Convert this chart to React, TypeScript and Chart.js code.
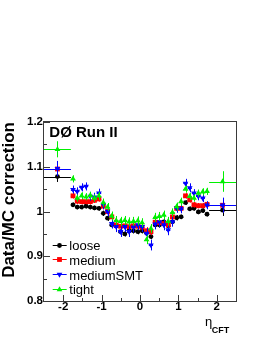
import React, { useEffect, useRef } from "react";
import { Chart, registerables } from "chart.js";

Chart.register(...registerables);

// ---- data ----
const BIN_EDGES = [-2.5, -1.8, -1.69, -1.58, -1.46, -1.35, -1.24, -1.13, -1.01, -0.9, -0.79, -0.68, -0.56, -0.45, -0.34, -0.23, -0.11, 0, 0.11, 0.23, 0.34, 0.45, 0.56, 0.68, 0.79, 0.9, 1.01, 1.13, 1.24, 1.35, 1.46, 1.58, 1.69, 1.8, 2.5];

const LOOSE = [1.078, 1.015, 1.010, 1.010, 1.012, 1.010, 1.008, 1.007, 0.996, 0.985, 0.970, 0.968, 0.955, 0.950, 0.958, 0.957, 0.955, 0.957, 0.952, 0.944, 0.970, 0.970, 0.977, 0.968, 0.977, 0.986, 0.988, 1.020, 1.006, 1.007, 0.999, 1.002, 0.994, 1.003];
const LOOSE_ERR = [0.012, 0.005, 0.005, 0.005, 0.005, 0.005, 0.005, 0.005, 0.006, 0.006, 0.006, 0.006, 0.006, 0.006, 0.006, 0.006, 0.006, 0.006, 0.006, 0.006, 0.006, 0.006, 0.006, 0.006, 0.006, 0.006, 0.005, 0.005, 0.005, 0.005, 0.005, 0.005, 0.005, 0.013];

const MEDIUM = [1.095, 1.035, 1.023, 1.022, 1.022, 1.022, 1.025, 1.028, 1.012, 1.000, 0.988, 0.970, 0.967, 0.968, 0.966, 0.968, 0.967, 0.965, 0.957, 0.955, 0.976, 0.975, 0.973, 0.970, 0.988, 1.007, 1.007, 1.035, 1.026, 1.015, 1.013, 1.013, 1.016, 1.014];
const MEDIUM_ERR = [0.016, 0.006, 0.006, 0.006, 0.006, 0.006, 0.006, 0.006, 0.007, 0.007, 0.007, 0.008, 0.008, 0.008, 0.008, 0.008, 0.008, 0.008, 0.008, 0.008, 0.008, 0.008, 0.008, 0.008, 0.007, 0.007, 0.007, 0.006, 0.006, 0.006, 0.006, 0.006, 0.006, 0.016];

const MEDIUM_SMT = [1.096, 1.049, 1.045, 1.054, 1.056, 1.034, 1.032, 1.041, 1.016, 1.000, 0.973, 0.966, 0.955, 0.966, 0.955, 0.965, 0.970, 0.966, 0.951, 0.925, 0.972, 0.977, 0.970, 0.959, 0.977, 1.008, 1.006, 1.063, 1.053, 1.041, 1.034, 1.030, 1.014, 1.014];
const MEDIUM_SMT_ERR = [0.017, 0.009, 0.009, 0.009, 0.009, 0.010, 0.010, 0.010, 0.011, 0.011, 0.011, 0.012, 0.012, 0.012, 0.012, 0.012, 0.012, 0.012, 0.012, 0.012, 0.012, 0.012, 0.012, 0.012, 0.011, 0.011, 0.010, 0.010, 0.010, 0.009, 0.009, 0.009, 0.009, 0.017];

const TIGHT = [1.139, 1.073, 1.030, 1.035, 1.033, 1.036, 1.030, 1.035, 1.020, 1.010, 0.990, 0.980, 0.978, 0.980, 0.977, 0.978, 0.979, 0.975, 0.937, 0.962, 0.987, 0.989, 0.992, 0.978, 0.998, 1.011, 1.022, 1.050, 1.034, 1.030, 1.041, 1.044, 1.045, 1.067];
const TIGHT_ERR = [0.018, 0.008, 0.008, 0.008, 0.008, 0.008, 0.008, 0.009, 0.009, 0.009, 0.010, 0.010, 0.010, 0.010, 0.010, 0.010, 0.010, 0.010, 0.010, 0.010, 0.010, 0.010, 0.010, 0.010, 0.009, 0.009, 0.009, 0.008, 0.008, 0.008, 0.008, 0.008, 0.008, 0.023];

const SERIES_LABELS = ["loose", "medium", "mediumSMT", "tight"];
const SERIES_COLORS = ["#000000", "#ff0000", "#0000ff", "#00f000"];

const X_TICKS = [-2, -1, 0, 1, 2];
const X_MINOR = [-1.5, -0.5, 0.5, 1.5];
const Y_TICKS = [0.8, 0.9, 1, 1.1, 1.2];
const Y_MINOR = [0.85, 0.95, 1.05, 1.15];

const Y_TITLE = "Data/MC correction";
const X_TITLE = "η";
const X_TITLE_SUB = "CFT";
const EXPERIMENT_LABEL = "DØ Run II";

const FONT = "'Liberation Sans', Arial, sans-serif";

type Marker = { style: string; radius: number; rotation: number };
const MARKERS: Marker[] = [
  { style: "circle", radius: 2.4, rotation: 0 },
  { style: "rect", radius: 3.4, rotation: 0 },
  { style: "triangle", radius: 3.3, rotation: 180 },
  { style: "triangle", radius: 3.3, rotation: 0 },
];

function buildPoints(values: number[], errs: number[]) {
  return values.map((v, i) => {
    const lo = BIN_EDGES[i];
    const hi = BIN_EDGES[i + 1];
    return { x: (lo + hi) / 2, y: v, ex: (hi - lo) / 2, ey: errs[i] };
  });
}

function drawMarker(ctx: CanvasRenderingContext2D, m: Marker, x: number, y: number, color: string) {
  ctx.save();
  ctx.fillStyle = color;
  ctx.beginPath();
  if (m.style === "circle") {
    ctx.arc(x, y, m.radius, 0, Math.PI * 2);
  } else if (m.style === "rect") {
    const s = m.radius * Math.SQRT1_2;
    ctx.rect(x - s, y - s, 2 * s, 2 * s);
  } else {
    let rad = (m.rotation * Math.PI) / 180;
    const r = m.radius;
    ctx.moveTo(x + Math.sin(rad) * r, y - Math.cos(rad) * r);
    rad += (2 * Math.PI) / 3;
    ctx.lineTo(x + Math.sin(rad) * r, y - Math.cos(rad) * r);
    rad += (2 * Math.PI) / 3;
    ctx.lineTo(x + Math.sin(rad) * r, y - Math.cos(rad) * r);
    ctx.closePath();
  }
  ctx.fill();
  ctx.restore();
}

const errorBarPlugin = {
  id: "errorBars",
  beforeDatasetDraw(chart: any, args: any) {
    const ds = chart.data.datasets[args.index];
    const xs = chart.scales.x;
    const ys = chart.scales.y;
    const ctx: CanvasRenderingContext2D = chart.ctx;
    const area = chart.chartArea;
    ctx.save();
    ctx.beginPath();
    ctx.rect(area.left, area.top, area.right - area.left + 1, area.bottom - area.top);
    ctx.clip();
    ctx.strokeStyle = ds.borderColor;
    ctx.lineWidth = 1;
    ds.data.forEach((p: any) => {
      const px = Math.round(xs.getPixelForValue(p.x)) + 0.5;
      const py = Math.round(ys.getPixelForValue(p.y)) + 0.5;
      const x0 = xs.getPixelForValue(p.x - p.ex);
      const x1 = xs.getPixelForValue(p.x + p.ex);
      const y0 = ys.getPixelForValue(p.y - p.ey);
      const y1 = ys.getPixelForValue(p.y + p.ey);
      ctx.beginPath();
      ctx.moveTo(x0, py);
      ctx.lineTo(x1, py);
      ctx.moveTo(px, y0);
      ctx.lineTo(px, y1);
      ctx.stroke();
    });
    ctx.restore();
  },
};

const framePlugin = {
  id: "rootFrame",
  beforeDatasetsDraw(chart: any) {
    const ctx: CanvasRenderingContext2D = chart.ctx;
    const { left, right, top, bottom } = chart.chartArea;
    const xs = chart.scales.x;
    const ys = chart.scales.y;
    ctx.save();
    ctx.strokeStyle = "#3a3a3a";
    ctx.lineWidth = 1;
    ctx.strokeRect(left - 0.5, top - 0.5, right - left + 1, bottom - top + 1);
    ctx.beginPath();
    X_TICKS.forEach((v) => {
      const px = Math.round(xs.getPixelForValue(v)) + 0.5;
      ctx.moveTo(px, bottom);
      ctx.lineTo(px, bottom - 6);
    });
    X_MINOR.forEach((v) => {
      const px = Math.round(xs.getPixelForValue(v)) + 0.5;
      ctx.moveTo(px, bottom);
      ctx.lineTo(px, bottom - 3);
    });
    Y_TICKS.forEach((v) => {
      const py = Math.round(ys.getPixelForValue(v)) + 0.5;
      ctx.moveTo(left, py);
      ctx.lineTo(left + 6, py);
    });
    Y_MINOR.forEach((v) => {
      const py = Math.round(ys.getPixelForValue(v)) + 0.5;
      ctx.moveTo(left, py);
      ctx.lineTo(left + 3, py);
    });
    ctx.stroke();
    ctx.restore();
  },
  afterDraw(chart: any) {
    const ctx: CanvasRenderingContext2D = chart.ctx;
    const { left, right, top, bottom } = chart.chartArea;
    ctx.save();
    ctx.fillStyle = "#000";
    ctx.textBaseline = "alphabetic";
    ctx.textAlign = "left";
    // experiment label
    ctx.font = `bold 15px ${FONT}`;
    ctx.fillText(EXPERIMENT_LABEL, left + 5.3, top + 15.3);
    // x title with subscript
    ctx.font = `13px ${FONT}`;
    ctx.fillText(X_TITLE, right - 31, bottom + 24.5);
    ctx.font = `bold 9px ${FONT}`;
    ctx.fillText(X_TITLE_SUB, right - 24.3, bottom + 31.7);
    // legend
    chart.data.datasets.forEach((ds: any, i: number) => {
      const y = bottom - 56.3 + i * 14.75;
      const color = ds.borderColor;
      ctx.strokeStyle = color;
      ctx.lineWidth = 1;
      ctx.beginPath();
      ctx.moveTo(left + 8.7, Math.round(y) + 0.5);
      ctx.lineTo(left + 22.7, Math.round(y) + 0.5);
      ctx.stroke();
      drawMarker(ctx, MARKERS[i], left + 15.5, Math.round(y) + 0.5, color);
      ctx.fillStyle = "#000";
      ctx.font = `13px ${FONT}`;
      ctx.fillText(ds.label, left + 25.3, y + 5.3);
    });
    ctx.restore();
  },
};

const SERIES_VALUES = [LOOSE, MEDIUM, MEDIUM_SMT, TIGHT];
const SERIES_ERRS = [LOOSE_ERR, MEDIUM_ERR, MEDIUM_SMT_ERR, TIGHT_ERR];

export default function App() {
  const canvasRef = useRef<HTMLCanvasElement | null>(null);

  useEffect(() => {
    document.body.style.margin = "0";
    const canvas = canvasRef.current;
    if (!canvas) return;

    const datasets = SERIES_LABELS.map((label, i) => ({
      label,
      data: buildPoints(SERIES_VALUES[i], SERIES_ERRS[i]),
      borderColor: SERIES_COLORS[i],
      backgroundColor: SERIES_COLORS[i],
      pointBackgroundColor: SERIES_COLORS[i],
      pointBorderColor: SERIES_COLORS[i],
      pointBorderWidth: 0,
      pointStyle: MARKERS[i].style,
      pointRadius: MARKERS[i].radius,
      pointRotation: MARKERS[i].rotation,
      showLine: false,
      order: SERIES_LABELS.length - i,
    }));

    const tickFont = { family: FONT, size: 11.5, weight: "bold" as const, lineHeight: 1 };

    const chart = new Chart(canvas, {
      type: "scatter",
      data: { datasets },
      options: {
        responsive: false,
        animation: false,
        events: [],
        layout: { padding: { left: 0, right: 30, top: 122, bottom: 0 } },
        plugins: {
          legend: { display: false },
          tooltip: { enabled: false },
          title: { display: false },
        },
        scales: {
          x: {
            type: "linear",
            position: "bottom",
            min: -2.5,
            max: 2.5,
            afterBuildTicks: (s: any) => {
              s.ticks = X_TICKS.map((v) => ({ value: v }));
            },
            afterFit: (s: any) => {
              s.height = 43;
            },
            grid: { display: false, drawTicks: false },
            border: { display: false },
            ticks: {
              padding: 0,
              maxRotation: 0,
              autoSkip: false,
              color: "#000",
              font: tickFont,
              callback: (v: any) => String(Number(Number(v).toFixed(2))),
            },
          },
          y: {
            type: "linear",
            position: "left",
            min: 0.8,
            max: 1.2,
            afterBuildTicks: (s: any) => {
              s.ticks = Y_TICKS.map((v) => ({ value: v }));
            },
            afterFit: (s: any) => {
              s.width = 44;
            },
            grid: { display: false, drawTicks: false },
            border: { display: false },
            ticks: {
              padding: 1,
              autoSkip: false,
              color: "#000",
              font: tickFont,
              callback: (v: any) => String(Number(Number(v).toFixed(2))),
            },
            title: {
              display: true,
              text: Y_TITLE,
              align: "end",
              color: "#000",
              padding: 0,
              font: { family: FONT, size: 17, weight: "bold", lineHeight: 1.07 },
            },
          },
        },
      },
      plugins: [framePlugin, errorBarPlugin],
    } as any);

    return () => {
      chart.destroy();
    };
  }, []);

  return (
    <div style={{ width: 266, height: 344, background: "#fff" }}>
      <canvas ref={canvasRef} width={266} height={344} style={{ display: "block", width: 266, height: 344 }} />
    </div>
  );
}
